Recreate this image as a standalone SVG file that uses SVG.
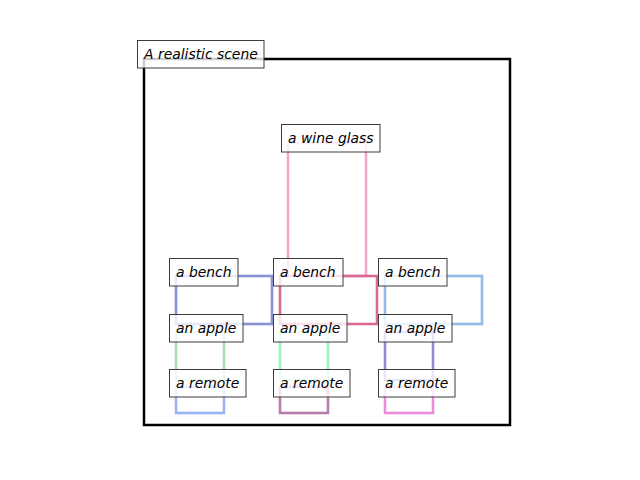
<svg xmlns="http://www.w3.org/2000/svg" width="640" height="480" viewBox="0 0 640 480">
<style>
.lbl rect{fill:#fff;fill-opacity:0.8;stroke:#3c3c3c;stroke-width:1}
.lbl text{font-family:"DejaVu Sans","Liberation Sans",sans-serif;font-style:italic;font-size:13.9px;fill:#000}
.box{fill:none;stroke-width:2.6}
</style>
<rect width="640" height="480" fill="#fff"/>
<g id="scene">
<rect x="144" y="59" width="366" height="366" fill="none" stroke="#000" stroke-width="2.5"/>
<g class="lbl"><rect x="137.5" y="40.5" width="126.5" height="27.5"/><text x="144" y="59">A realistic scene</text></g>
</g>
<g id="wine-glass">
<rect class="box" x="288" y="143" width="78" height="133" stroke="#f4a6cc"/>
<g class="lbl"><rect x="281.5" y="124.5" width="98.5" height="27.5"/><text x="288" y="143">a wine glass</text></g>
</g>
<g id="bench-1">
<rect class="box" x="176" y="276" width="96" height="48" stroke="#8890d6"/>
<g class="lbl"><rect x="169.5" y="258.5" width="68.5" height="27.5"/><text x="176" y="277">a bench</text></g>
</g>
<g id="bench-2">
<rect class="box" x="280" y="276" width="97" height="48" stroke="#da6a94"/>
<g class="lbl"><rect x="273.5" y="258.5" width="69.5" height="27.5"/><text x="280" y="277">a bench</text></g>
</g>
<g id="bench-3">
<rect class="box" x="385" y="276" width="97" height="48" stroke="#94bae8"/>
<g class="lbl"><rect x="378.5" y="258.5" width="68.5" height="27.5"/><text x="385" y="277">a bench</text></g>
</g>
<g id="apple-1">
<rect class="box" x="176" y="332" width="48" height="48" stroke="#acdcb8"/>
<g class="lbl"><rect x="169.5" y="314.5" width="73.5" height="27.5"/><text x="176" y="333">an apple</text></g>
</g>
<g id="apple-2">
<rect class="box" x="280" y="332" width="48" height="48" stroke="#9cf0c0"/>
<g class="lbl"><rect x="273.5" y="314.5" width="73.5" height="27.5"/><text x="280" y="333">an apple</text></g>
</g>
<g id="apple-3">
<rect class="box" x="385" y="332" width="48" height="48" stroke="#9888d6"/>
<g class="lbl"><rect x="378.5" y="314.5" width="73.5" height="27.5"/><text x="385" y="333">an apple</text></g>
</g>
<g id="remote-1">
<rect class="box" x="176" y="387" width="48" height="26" stroke="#98b4f4"/>
<g class="lbl"><rect x="169.5" y="369.5" width="76.5" height="27.5"/><text x="176" y="388">a remote</text></g>
</g>
<g id="remote-2">
<rect class="box" x="280" y="387" width="48" height="26" stroke="#b67caa"/>
<g class="lbl"><rect x="273.5" y="369.5" width="76.5" height="27.5"/><text x="280" y="388">a remote</text></g>
</g>
<g id="remote-3">
<rect class="box" x="385" y="387" width="48" height="26" stroke="#ea8cda"/>
<g class="lbl"><rect x="378.5" y="369.5" width="76.5" height="27.5"/><text x="385" y="388">a remote</text></g>
</g>
<g id="connectors"/>
</svg>
